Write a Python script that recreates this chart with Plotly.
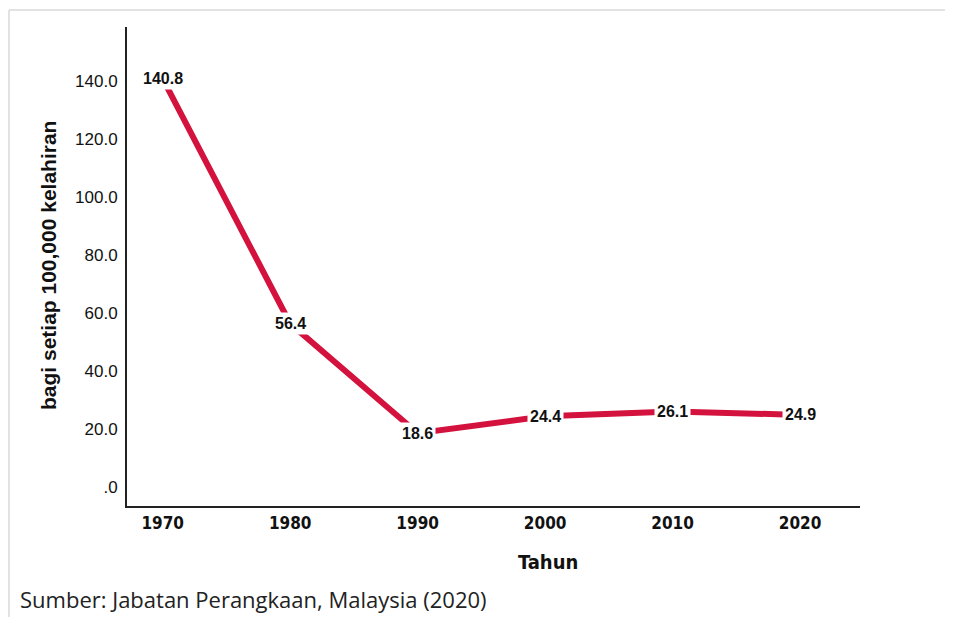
import plotly.graph_objects as go

years = [1970, 1980, 1990, 2000, 2010, 2020]
rates = [140.8, 56.4, 18.6, 24.4, 26.1, 24.9]

y_tickvals = [0, 20, 40, 60, 80, 100, 120, 140]
y_ticktext = ['.0', '20.0', '40.0', '60.0', '80.0', '100.0', '120.0', '140.0']

fig = go.Figure()

fig.add_trace(go.Scatter(
    x=years,
    y=rates,
    mode='lines',
    line=dict(color='#d3123d', width=6),
    hoverinfo='skip'
))

# Value labels sitting on the line, with white boxes that cut it
for yr, val in zip(years, rates):
    fig.add_annotation(
        x=yr, y=val,
        text=f'<b>{val:.1f}</b>',
        showarrow=False,
        xanchor='center', yanchor='middle',
        bgcolor='white',
        borderpad=2,
        font=dict(family='Liberation Sans, Arial', size=16, color='#111111')
    )

# Axis titles
fig.add_annotation(
    x=0.574, y=-0.117, xref='paper', yref='paper',
    xanchor='center', yanchor='middle',
    text='<b>Tahun</b>', showarrow=False,
    font=dict(family='DejaVu Sans Condensed, Liberation Sans, Arial', size=20, color='#111111')
)
fig.add_annotation(
    x=-0.1078, y=0.503, xref='paper', yref='paper',
    xanchor='center', yanchor='middle',
    text='<b>bagi setiap 100,000 kelahiran</b>', showarrow=False, textangle=-90,
    font=dict(family='Liberation Sans, Arial', size=21, color='#111111')
)

# Source note
fig.add_annotation(
    x=-0.1487, y=-0.194, xref='paper', yref='paper',
    xanchor='left', yanchor='middle',
    text='Sumber: Jabatan Perangkaan, Malaysia (2020)', showarrow=False,
    font=dict(family='Open Sans, Noto Sans', size=22, color='#222222')
)

# Light frame around the figure (top and left edges)
fig.add_shape(type='line', xref='paper', yref='paper',
              x0=-0.161, x1=1.15, y0=1.0355, y1=1.0355,
              line=dict(color='#e2e2e2', width=2))
fig.add_shape(type='line', xref='paper', yref='paper',
              x0=-0.161, x1=-0.161, y0=1.0355, y1=-0.24,
              line=dict(color='#e2e2e2', width=2))

fig.update_layout(
    width=945,
    height=609,
    margin=dict(l=119, r=93, t=19, b=111),
    showlegend=False,
    paper_bgcolor='white',
    plot_bgcolor='white',
    xaxis=dict(
        range=[1967.2, 2024.7],
        tickvals=years,
        ticktext=[f'<b>{y}</b>' for y in years],
        showgrid=False,
        zeroline=False,
        showline=True,
        linecolor='#222222',
        linewidth=2,
        ticks='',
        ticklabelstandoff=1,
        tickfont=dict(family='DejaVu Sans Condensed, Liberation Sans, Arial', size=17, color='#111111')
    ),
    yaxis=dict(
        range=[-6.5, 158.6],
        tickvals=y_tickvals,
        ticktext=y_ticktext,
        showgrid=False,
        zeroline=False,
        showline=True,
        linecolor='#222222',
        linewidth=2,
        ticks='',
        ticklabelstandoff=4,
        tickfont=dict(family='Liberation Sans, Arial', size=17, color='#111111')
    )
)

fig.write_html("out.html")
